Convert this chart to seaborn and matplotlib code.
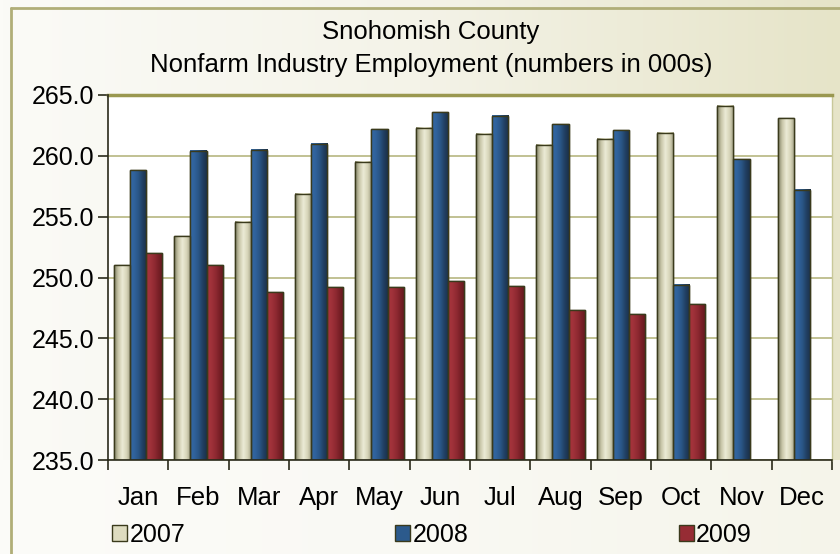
import numpy as np
import pandas as pd
import matplotlib
matplotlib.use("Agg")
import matplotlib.pyplot as plt
import seaborn as sns
from matplotlib.colors import LinearSegmentedColormap
from matplotlib.patches import Patch, Rectangle
from matplotlib.lines import Line2D

months = ["Jan", "Feb", "Mar", "Apr", "May", "Jun", "Jul", "Aug", "Sep", "Oct", "Nov", "Dec"]
y2007 = [251.0, 253.4, 254.6, 256.9, 259.5, 262.3, 261.8, 260.9, 261.4, 261.9, 264.1, 263.1]
y2008 = [258.8, 260.4, 260.5, 261.0, 262.2, 263.6, 263.3, 262.6, 262.1, 249.4, 259.7, 257.2]
y2009 = [252.0, 251.0, 248.8, 249.2, 249.2, 249.7, 249.3, 247.3, 247.0, 247.8, np.nan, np.nan]
years = ["2007", "2008", "2009"]
yticks = [235.0, 240.0, 245.0, 250.0, 255.0, 260.0, 265.0]

df = pd.DataFrame({
    "Month": months * 3,
    "Year": ["2007"] * 12 + ["2008"] * 12 + ["2009"] * 12,
    "Value": y2007 + y2008 + y2009,
})

sns.set_theme(style="white")
plt.rcParams["font.family"] = ["Liberation Sans", "DejaVu Sans"]
plt.rcParams["text.color"] = "black"
plt.rcParams["xtick.labelcolor"] = "black"
plt.rcParams["ytick.labelcolor"] = "black"

YMIN, YMAX = 235, 265
base_colors = {"2007": "#dedcc0", "2008": "#2c5a8c", "2009": "#962c34"}
grad_colors = {
    "2007": ["#7c7c62", "#c8c6a8", "#ecebd6", "#d6d4b8", "#9c9a80"],
    "2008": ["#3468a4", "#30629c", "#2a5686", "#213f62", "#1a3048"],
    "2009": ["#a8343c", "#a0323a", "#902a32", "#781f26", "#601a1e"],
}

fig = plt.figure(figsize=(8.4, 5.54), dpi=100)

# background gradient
bg = fig.add_axes([0, 0, 1, 1], zorder=-10)
bg.set_axis_off()
grad = np.linspace(0, 1, 256).reshape(1, -1)
bg_cmap = LinearSegmentedColormap.from_list("bg", ["#fbfbf7", "#f4f3e8", "#e6e4c8"])
bg.imshow(grad, aspect="auto", cmap=bg_cmap, extent=[0, 1, 0, 1])
bg.set_xlim(0, 1)
bg.set_ylim(0, 1)
bg.add_patch(Rectangle((0.0, 0.0), 1, 0.17, color="#fcfcf9", alpha=0.7, lw=0))
# outer border (left and top visible)
bg.add_line(Line2D([11 / 840, 11 / 840], [0, 1 - 8 / 554], color="#b0ae78", lw=2))
bg.add_line(Line2D([11 / 840, 1], [1 - 8 / 554, 1 - 8 / 554], color="#b0ae78", lw=2))

ax = fig.add_axes([108 / 840, 1 - 460 / 554, (832 - 108) / 840, (460 - 95) / 554])
sns.barplot(data=df, x="Month", y="Value", hue="Year", order=months, hue_order=years,
            palette=base_colors, width=0.8, edgecolor="#3a3a1c", linewidth=1.0,
            ax=ax, legend=False, zorder=3)

# gradient shading on bars (clipped to the visible value range)
n = len(months)
for i, patch in enumerate(list(ax.patches)):
    yr = years[i // n]
    h = patch.get_height()
    if not np.isfinite(h) or h == 0:
        continue
    x0 = patch.get_x()
    w = patch.get_width()
    top = patch.get_y() + h
    cm = LinearSegmentedColormap.from_list("g" + yr, grad_colors[yr])
    ax.imshow(grad, aspect="auto", cmap=cm, extent=[x0, x0 + w, YMIN, top],
              zorder=3.5, interpolation="bilinear")
    ax.add_patch(Rectangle((x0, YMIN), w, top - YMIN, fill=False,
                           edgecolor="#3a3a1c", lw=1.0, zorder=4))

ax.set_xlim(-0.5, 11.5)
ax.set_ylim(YMIN, YMAX)
ax.set_yticks(yticks)
ax.set_yticklabels([f"{v:.1f}" for v in yticks], fontsize=18, color="black")
ax.set_xticks(range(12))
ax.set_xticklabels(months, fontsize=18.5, color="black")
ax.set_xlabel("")
ax.set_ylabel("")
ax.set_facecolor("white")

ax.yaxis.grid(True, color="#b6b680", lw=1.2, zorder=0)
ax.xaxis.grid(False)
for side in ["left", "bottom"]:
    ax.spines[side].set_color("#2a2a1a")
    ax.spines[side].set_linewidth(1.2)
    ax.spines[side].set_zorder(5)
ax.spines["top"].set_color("#9a9850")
ax.spines["top"].set_linewidth(2.5)
ax.spines["right"].set_color("#c8c89a")
ax.spines["right"].set_linewidth(1.0)

ax.tick_params(axis="y", left=True, length=7, width=1.2, color="#2a2a1a", pad=3)
ax.tick_params(axis="x", which="major", bottom=True, length=0, pad=19)
ax.set_xticks(np.arange(-0.5, 12, 1), minor=True)
ax.tick_params(axis="x", which="minor", bottom=True, length=7, width=1.2, color="#2a2a1a")

fig.text(431 / 840, 1 - 39 / 554, "Snohomish County", ha="center", va="baseline",
         fontsize=18.5, color="black")
fig.text(431 / 840, 1 - 72 / 554, "Nonfarm Industry Employment (numbers in 000s)",
         ha="center", va="baseline", fontsize=18.5, color="black")

handles = [Patch(facecolor=base_colors[y], edgecolor="#3a3a1c", label=y) for y in years]
leg = fig.legend(handles=handles, loc="center left", bbox_to_anchor=(112 / 840, 1 - 535 / 554),
                 ncol=3, frameon=False, fontsize=18, handlelength=0.6, handleheight=0.6,
                 handletextpad=0.1, columnspacing=8.4, borderaxespad=0, borderpad=0)
for t in leg.get_texts():
    t.set_color("black")

fig.savefig("out.png", dpi=100)
